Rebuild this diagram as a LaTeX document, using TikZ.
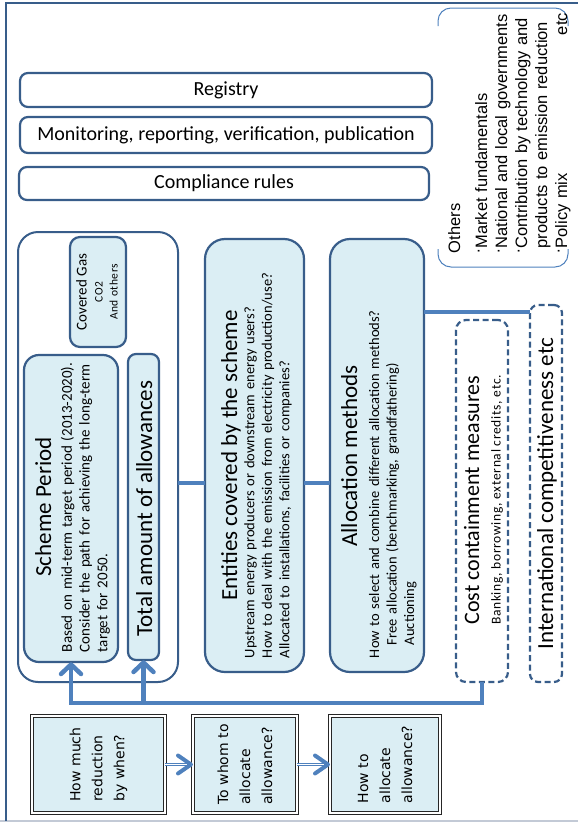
\documentclass[tikz,border=0pt]{standalone}
\usepackage{fontspec}
\setmainfont{Carlito}
\newfontfamily\arialfont{Liberation Sans}
\newfontfamily\verdanafont{DejaVu Sans}
\usetikzlibrary{calc}
\definecolor{frameblue}{HTML}{385D8A}
\definecolor{linkblue}{HTML}{4F81BD}
\definecolor{paleblue}{HTML}{DBEEF4}
\definecolor{edgegray}{HTML}{C3CAD6}
\newcommand{\setfs}[2]{\fontsize{#1}{#2}\selectfont}
\newcommand{\mdot}{\raisebox{0.45em}{.}}
\begin{document}
\begin{tikzpicture}[x=1pt,y=-1pt,
  every node/.style={inner sep=0pt, outer sep=0pt},
  bar/.style={draw=frameblue, line width=2.2pt, rounded corners=8pt, fill=white, font=\setfs{20}{24}},
  panel/.style={draw=frameblue, line width=2.2pt, fill=paleblue, rounded corners=#1},
  dashpanel/.style={draw=frameblue, line width=2.2pt, dash pattern=on 6pt off 3.5pt, rounded corners=#1},
  vtitle/.style={rotate=90, anchor=base, font=\setfs{23}{28}},
  vbody/.style={rotate=90, anchor=north west, align=left, text width=#1, font=\setfs{14.5}{17.5}},
  link/.style={draw=linkblue, line width=4.5pt},
  upchevron/.style={draw=linkblue, line width=4.5pt, line cap=round, line join=round},
  qbox/.style={rotate=90, draw=black!85, double=white, double distance=1.1pt, line width=1.15pt, fill=paleblue, align=left, font=\verdanafont\setfs{14}{22}},
  dblshaft/.style={draw=linkblue, double=white, double distance=1.5pt, line width=0.9pt},
  chevron/.style={draw=linkblue, line width=4pt, line cap=round, line join=round},
]
\useasboundingbox (0,0) rectangle (578,822);

% outer frame
\draw[edgegray, line width=1.5pt] (0,821) -- (578,821);
\draw[frameblue, line width=2pt] (578,2.5) -- (6,2.5) -- (6,821);

% cross-cutting rules
\node[bar, minimum width=412pt, minimum height=34pt] (registry) at (226,90) {Registry};
\node[bar, minimum width=412pt, minimum height=36pt] (mrv) at (226,135) {Monitoring, reporting, verification, publication};
\node[bar, minimum width=410pt, minimum height=33pt] (compliance) at (224,183.5) {Compliance rules};

% cap group
\node[draw=frameblue, line width=2pt, rounded corners=20pt, minimum width=160pt, minimum height=450pt] (group) at (98,457) {};
\node[panel=10pt, minimum width=56pt, minimum height=110pt] (gas) at (98,292) {};
\node[panel=15pt, minimum width=94pt, minimum height=307pt] (scheme) at (71,508.5) {};
\node[panel=8pt, minimum width=31pt, minimum height=306pt] (total) at (143.5,507) {};

% design elements
\node[panel=20pt, minimum width=99pt, minimum height=433pt] (entities) at (254.5,455.5) {};
\node[panel=20pt, minimum width=94pt, minimum height=433pt] (allocation) at (377,455.5) {};
\node[dashpanel=10pt, minimum width=52pt, minimum height=362pt] (cost) at (482,501) {};
\node[dashpanel=8pt, minimum width=32pt, minimum height=377pt] (intl) at (546,493.5) {};

% panel texts
\node[vtitle, font=\setfs{15}{18}] (gasT) at (86.5,292) {Covered Gas};
\node[rotate=90, anchor=north, align=center, font=\setfs{11.5}{15}\addfontfeatures{LetterSpace=5}] (gasB) at (92,292) {\strut CO2\\And others};

\node[vtitle] (schemeT) at (51,507) {Scheme Period};
\node[vbody=300pt, font=\setfs{15}{17.7}] (schemeB) at (59.6,652) {\strut Based on mid-term target period (2013-2020).\\Consider the path for achieving the long-term\\target for 2050.};
\node[vtitle] (totalT) at (152,508.5) {Total amount of allowances};

\node[vtitle] (entT) at (237,455.5) {Entities covered by the scheme};
\node[vbody=420pt] (entB) at (242,658) {\strut Upstream energy producers or downstream energy users?\\How to deal with the emission from electricity production/use?\\Allocated to installations, facilities or companies?};

\node[vtitle] (allocT) at (357,456) {Allocation methods};
\node[vbody=420pt] (allocB) at (366.75,658) {\strut How to select and combine different allocation methods?\\\hspace*{13pt}Free allocation (benchmarking, grandfathering)\\\hspace*{13pt}Auctioning};

\node[vtitle, font=\setfs{22}{26}] (costT) at (479,500) {Cost containment measures};
\node[vtitle, font=\setfs{13.5}{16}\addfontfeatures{LetterSpace=5}] (costB) at (500.5,500) {Banking, borrowing, external credits, etc.};
\node[vtitle] (intlT) at (553,493.5) {International competitiveness etc};

% other considerations
\draw[linkblue, line width=1pt, rounded corners=13pt] (438,26) -- (438,8) -- (568,8) -- (568,26);
\draw[linkblue, line width=1pt, rounded corners=13pt] (438,249) -- (438,267) -- (568,267) -- (568,249);
\node[rotate=90, anchor=north west, align=left, text width=240pt, font=\arialfont\setfs{16.5}{20}] (others) at (446,253)
  {\strut Others\\[7pt]\mdot Market fundamentals\\\mdot National and local governments\\\mdot Contribution by technology and\\\hspace*{4.6pt}products to emission reduction\\\mdot Policy mix\hskip 0pt plus 1filll etc\hspace*{10pt}};

% links between elements
\coordinate (row1) at (0,483);
\coordinate (row2) at (0,312);
\draw[link] (group.east |- row1) -- (entities.west |- row1);
\draw[link] (entities.east |- row1) -- (allocation.west |- row1);
\draw[link] (allocation.east |- row2) -- (intl.west |- row2);

% feedback from cost containment to the cap
\coordinate (busL) at (71,703);
\coordinate (busM) at (143.5,703);
\draw[link] (cost.south) |- (busL) -- ($(scheme.south)+(0,3)$);
\draw[link] (busM) -- ($(total.south)+(0,3)$);
\draw[upchevron] ($(scheme.south)+(-10,12)$) -- ($(scheme.south)+(0,2.5)$) -- ($(scheme.south)+(10,12)$);
\draw[upchevron] ($(total.south)+(-10,12)$) -- ($(total.south)+(0,2.5)$) -- ($(total.south)+(10,12)$);

% guiding questions
\node[qbox, minimum width=97pt, minimum height=133pt] (q1) at (98.5,764.5) {How much\\reduction\\by when?};
\node[qbox, minimum width=97pt, minimum height=104pt] (q2) at (245,764.5) {To whom to\\allocate\\allowance?};
\node[qbox, minimum width=97pt, minimum height=110pt] (q3) at (385,764.5) {How to\\allocate\\allowance?};

\draw[dblshaft, shorten >=6pt] (q1) -- (q2);
\draw[chevron] ($(q2.north)+(-15,-9)$) -- ($(q2.north)+(-2,0)$) -- ($(q2.north)+(-15,9)$);
\draw[dblshaft, shorten >=6pt] (q2) -- (q3);
\draw[chevron] ($(q3.north)+(-15,-9)$) -- ($(q3.north)+(-2,0)$) -- ($(q3.north)+(-15,9)$);
\end{tikzpicture}
\end{document}
